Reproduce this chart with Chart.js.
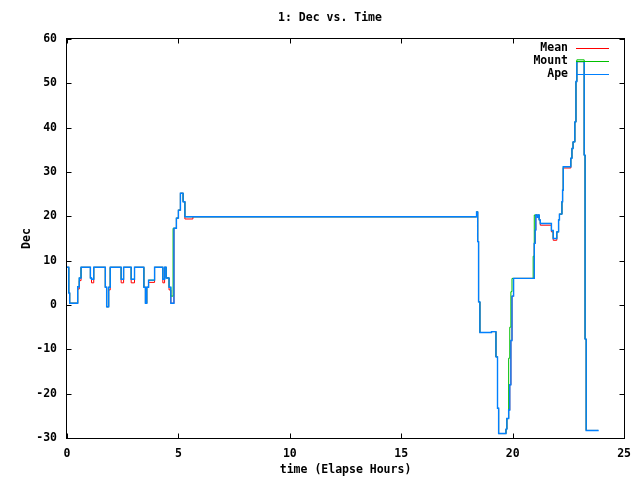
<!DOCTYPE html>
<html>
<head>
<meta charset="utf-8">
<script src="https://cdn.jsdelivr.net/npm/chart.js@4/dist/chart.umd.min.js"></script>
<style>
  html, body { margin: 0; padding: 0; background: #fff; }
  #wrap { width: 640px; height: 480px; }
</style>
</head>
<body>
<div id="wrap"><canvas id="chart" width="640" height="480"></canvas></div>
<script>
// time stamps (elapsed hours) where a value changes
let hours = [
  0.00, 0.08, 0.12, 0.48, 0.55, 0.63, 1.05, 1.10, 1.20, 1.72,
  1.78, 1.87, 1.94, 2.43, 2.54, 2.88, 3.03, 3.45, 3.52, 3.58,
  3.66, 3.93, 4.30, 4.38, 4.45, 4.58, 4.66, 4.76, 4.80, 4.91,
  5.00, 5.09, 5.21, 5.29, 5.65, 18.38, 18.43, 18.47, 18.53, 19.05,
  19.25, 19.32, 19.37, 19.70, 19.74, 19.82, 19.87, 19.92, 19.97, 20.04,
  20.92, 20.97, 21.01, 21.04, 21.11, 21.15, 21.19, 21.24, 21.74, 21.82,
  21.98, 22.06, 22.10, 22.21, 22.24, 22.27, 22.61, 22.66, 22.71, 22.79,
  22.84, 22.88, 23.21, 23.25, 23.30, 23.83
];

let meanDec = [
  8.5, 2.7, 0.4, 3.6, 5.5, 8.5, 6.1, 5.0, 8.5, 4.0,
  -0.4, 3.4, 8.5, 5.0, 8.5, 5.0, 8.5, 4.0, 0.4, 4.0,
  5.1, 8.5, 5.0, 8.5, 6.1, 3.4, 0.4, 0.4, 17.3, 19.6,
  21.4, 25.2, 23.3, 19.4, 19.9, 21.0, 14.3, 0.7, -6.2, -6.0,
  -11.7, -23.3, -29.0, -28.0, -25.6, -23.7, -18.0, -8.0, 2.0, 6.0,
  6.0, 13.9, 16.9, 20.3, 19.8, 20.3, 19.2, 18.0, 16.5, 14.6,
  16.5, 19.2, 20.5, 23.3, 25.9, 30.9, 33.1, 35.3, 36.8, 41.3,
  50.4, 54.9, 33.8, -7.7, -28.3, -28.3
];

let mountDec = [
  8.5, 2.7, 0.4, 4.1, 6.1, 8.5, 6.1, 5.8, 8.5, 4.0,
  -0.4, 4.0, 8.5, 5.8, 8.5, 5.8, 8.5, 4.0, 0.4, 4.0,
  5.6, 8.5, 5.8, 8.5, 6.1, 4.0, 2.0, 17.3, 17.3, 19.6,
  21.4, 25.2, 23.3, 19.9, 19.9, 21.0, 14.3, 0.7, -6.2, -6.0,
  -11.7, -23.3, -29.0, -28.0, -25.6, -12.0, -5.0, 3.0, 6.0, 6.0,
  11.0, 20.3, 20.3, 20.3, 19.8, 20.3, 19.2, 18.4, 16.8, 15.0,
  16.5, 19.2, 20.5, 23.3, 25.9, 31.2, 33.1, 35.3, 36.8, 41.3,
  50.4, 55.3, 33.8, -7.7, -28.3, -28.3
];

let apeDec = [
  8.5, 2.7, 0.4, 4.1, 6.1, 8.5, 6.1, 5.8, 8.5, 4.0,
  -0.4, 4.0, 8.5, 5.8, 8.5, 5.8, 8.5, 4.0, 0.4, 4.0,
  5.6, 8.5, 5.8, 8.5, 6.1, 4.0, 0.4, 0.4, 17.3, 19.6,
  21.4, 25.2, 23.3, 19.9, 19.9, 21.0, 14.3, 0.7, -6.2, -6.0,
  -11.7, -23.3, -29.0, -28.0, -25.6, -23.7, -18.0, -8.0, 2.0, 6.0,
  6.0, 13.9, 16.9, 20.3, 19.8, 20.3, 19.2, 18.4, 16.8, 15.0,
  16.5, 19.2, 20.5, 23.3, 25.9, 31.2, 33.1, 35.3, 36.8, 41.3,
  50.4, 54.9, 33.8, -7.7, -28.3, -28.3
];

let seriesNames = ["Mean", "Mount", "Ape"];
let seriesColors = ["#ff0000", "#00c000", "#0080ff"];

let xMin = 0, xMax = 25, xStep = 5;
let yMin = -30, yMax = 60, yStep = 10;

let FONT = "'DejaVu Sans Mono', 'Liberation Mono', monospace";

function points(vals) {
  return hours.map((h, i) => ({ x: h, y: vals[i] }));
}

// gnuplot look: box border, inward ticks, title and key on the right
let gnuplotFrame = {
  id: "gnuplotFrame",
  afterDraw(c) {
    let ctx = c.ctx;
    let a = c.chartArea;
    let L = Math.round(a.left) - 0.5, R = Math.round(a.right) + 0.5;
    let T = Math.round(a.top) - 0.5, B = Math.round(a.bottom) + 0.5;
    ctx.save();
    ctx.strokeStyle = "#000";
    ctx.lineWidth = 1;
    ctx.strokeRect(L, T, R - L, B - T);

    ctx.beginPath();
    c.scales.x.ticks.forEach(t => {
      let px = Math.round(c.scales.x.getPixelForValue(t.value)) + 0.5;
      ctx.moveTo(px, B); ctx.lineTo(px, B - 5);
      ctx.moveTo(px, T); ctx.lineTo(px, T + 5);
    });
    c.scales.y.ticks.forEach(t => {
      let py = Math.round(c.scales.y.getPixelForValue(t.value)) + 0.5;
      ctx.moveTo(L, py); ctx.lineTo(L + 5, py);
      ctx.moveTo(R, py); ctx.lineTo(R - 5, py);
    });
    ctx.stroke();

    // title
    ctx.fillStyle = "#000";
    ctx.font = "bold 11.5px " + FONT;
    ctx.textAlign = "center";
    ctx.textBaseline = "middle";
    ctx.fillText("1: Dec vs. Time", 330, 18);

    // key
    ctx.textAlign = "right";
    c.data.datasets.forEach((ds, i) => {
      let y = 48 + i * 13;
      ctx.fillStyle = "#000";
      ctx.fillText(ds.label, 568, y);
      ctx.strokeStyle = ds.borderColor;
      ctx.lineWidth = 1;
      ctx.beginPath();
      ctx.moveTo(576, y + 0.5);
      ctx.lineTo(609, y + 0.5);
      ctx.stroke();
    });
    ctx.restore();
  }
};

let ctx = document.getElementById("chart").getContext("2d");

let chart = new Chart(ctx, {
  type: "line",
  data: {
    datasets: [
      { label: seriesNames[0], data: points(meanDec), borderColor: seriesColors[0],
        borderWidth: 1, order: 2 },
      { label: seriesNames[1], data: points(mountDec), borderColor: seriesColors[1],
        borderWidth: 1, order: 1 },
      { label: seriesNames[2], data: points(apeDec), borderColor: seriesColors[2],
        borderWidth: 1.4, order: 0 }
    ]
  },
  options: {
    responsive: false,
    animation: false,
    events: [],
    layout: { padding: { top: 39, right: 15, left: 0, bottom: 0 } },
    elements: {
      line: { stepped: true, tension: 0, fill: false,
              borderCapStyle: "square", borderJoinStyle: "miter" },
      point: { radius: 0 }
    },
    plugins: {
      legend: { display: false },
      title: { display: false },
      tooltip: { enabled: false }
    },
    scales: {
      x: {
        type: "linear",
        min: xMin, max: xMax,
        grid: { display: false, drawTicks: false },
        border: { display: false },
        ticks: { stepSize: xStep, color: "#000", padding: 9, maxRotation: 0,
                 font: { family: FONT, size: 11.5, weight: "bold" } },
        title: { display: true, text: "time (Elapse Hours)", color: "#000",
                 padding: { top: 0, bottom: 3 },
                 font: { family: FONT, size: 11.5, weight: "bold" } },
        afterFit(s) { s.height = 42; }
      },
      y: {
        type: "linear",
        min: yMin, max: yMax,
        grid: { display: false, drawTicks: false },
        border: { display: false },
        ticks: { stepSize: yStep, color: "#000", padding: 10,
                 font: { family: FONT, size: 11.5, weight: "bold" } },
        title: { display: true, text: "Dec", color: "#000",
                 padding: { top: 20, bottom: 0 },
                 font: { family: FONT, size: 11.5, weight: "bold" } },
        afterFit(s) { s.width = 67; }
      }
    }
  },
  plugins: [gnuplotFrame]
});
</script>
</body>
</html>
